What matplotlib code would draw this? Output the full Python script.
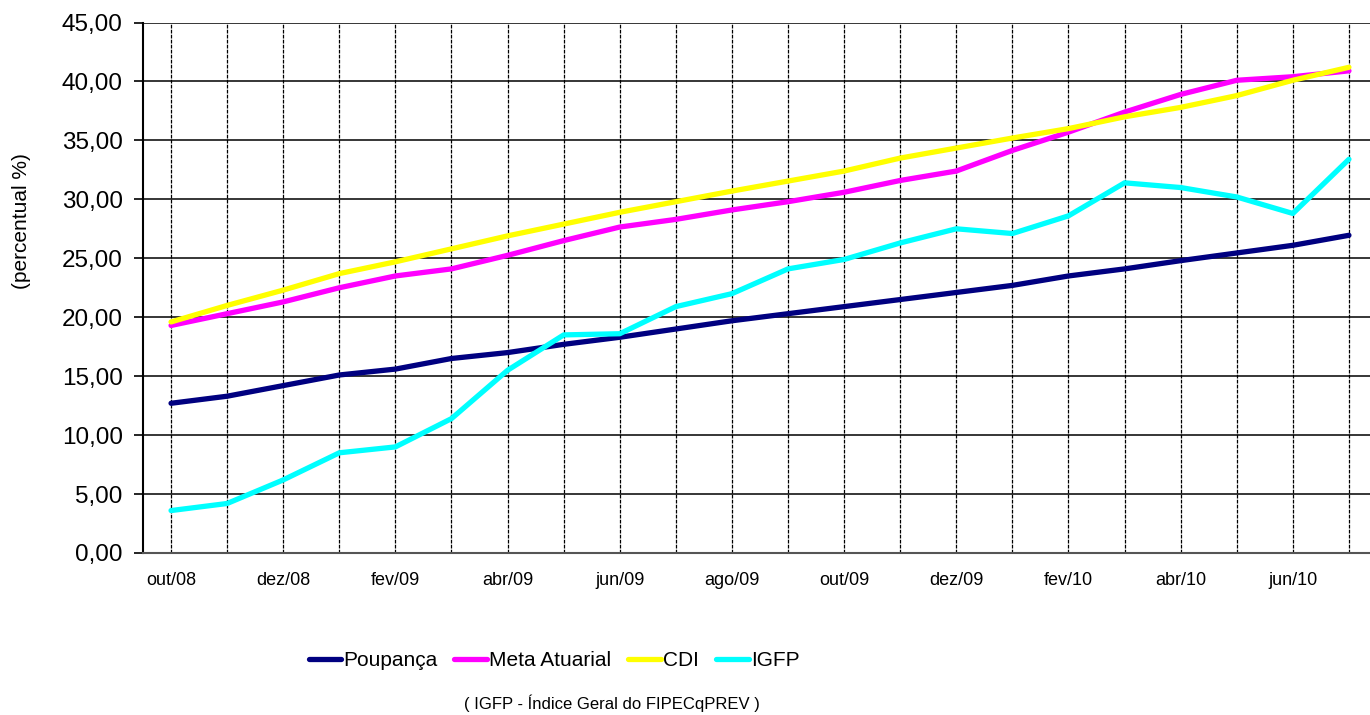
import matplotlib
matplotlib.use("Agg")
import matplotlib.pyplot as plt

# dados (percentual acumulado)
meses = ["out/08", "nov/08", "dez/08", "jan/09", "fev/09", "mar/09", "abr/09", "mai/09",
         "jun/09", "jul/09", "ago/09", "set/09", "out/09", "nov/09", "dez/09", "jan/10",
         "fev/10", "mar/10", "abr/10", "mai/10", "jun/10", "jul/10"]
poupanca = [12.7, 13.3, 14.2, 15.1, 15.6, 16.5, 17.0, 17.7, 18.3, 19.0, 19.7, 20.3,
            20.9, 21.5, 22.1, 22.7, 23.5, 24.1, 24.8, 25.45, 26.1, 26.95]
meta_atuarial = [19.3, 20.3, 21.3, 22.5, 23.5, 24.1, 25.25, 26.5, 27.65, 28.3, 29.1, 29.8,
                 30.6, 31.6, 32.4, 34.15, 35.7, 37.4, 38.9, 40.1, 40.4, 40.9]
cdi = [19.6, 21.0, 22.3, 23.7, 24.7, 25.8, 26.9, 27.9, 28.9, 29.8, 30.7, 31.55,
       32.4, 33.5, 34.35, 35.2, 36.0, 37.0, 37.8, 38.8, 40.1, 41.2]
igfp = [3.6, 4.2, 6.2, 8.5, 9.0, 11.4, 15.5, 18.5, 18.6, 20.9, 22.0, 24.1,
        24.9, 26.3, 27.5, 27.1, 28.6, 31.4, 31.0, 30.2, 28.8, 33.4]
y_ticks = [0, 5, 10, 15, 20, 25, 30, 35, 40, 45]

fonte = ["Liberation Sans", "DejaVu Sans"]

fig = plt.figure(figsize=(13.7, 7.15), dpi=100)
ax = fig.add_axes([143 / 1370, 1 - 553 / 715, 1234 / 1370, 530.5 / 715])

x = list(range(len(meses)))
series = [("Poupança", poupanca, "#000080"),
          ("Meta Atuarial", meta_atuarial, "#FF00FF"),
          ("CDI", cdi, "#FFFF00"),
          ("IGFP", igfp, "#00FFFF")]
linhas = []
for nome, valores, cor in series:
    ln, = ax.plot(x, valores, color=cor, lw=3.8, solid_capstyle="round", label=nome, zorder=3)
    linhas.append(ln)

ax.set_xlim(-0.5, len(meses) - 0.5)
ax.set_ylim(0, 45)

ax.set_yticks(y_ticks)
ax.set_yticklabels([f"{v:.2f}".replace(".", ",") for v in y_ticks], fontsize=17.5, family=fonte)
ax.set_xticks(x)
ax.set_xticklabels([m if i % 2 == 0 else "" for i, m in enumerate(meses)], fontsize=13, family=fonte)
ax.tick_params(axis="y", length=6.5, width=1.2, pad=8)
ax.tick_params(axis="x", length=0, pad=14)

# grade
ax.grid(axis="y", color="black", lw=1.1, zorder=1)
ax.grid(axis="x", color="black", lw=0.9, linestyle=(0, (3, 1)), zorder=1)

for lado in ["top", "right"]:
    ax.spines[lado].set_visible(False)
ax.spines["left"].set_linewidth(1.5)
ax.spines["bottom"].set_linewidth(1.5)
ax.spines["bottom"].set_color("#555555")

fig.text(0.016, 1 - 221 / 715, "(percentual %)", rotation=90, ha="center", va="center",
         fontsize=15, family=fonte)

fig.legend(handles=linhas, loc="center", bbox_to_anchor=(554 / 1370, 1 - 661 / 715), ncol=4,
           frameon=False, handlelength=1.58, handletextpad=0.1, columnspacing=0.8,
           prop={"family": fonte, "size": 15})

fig.text(612 / 1370, 1 - 703 / 715, "( IGFP - Índice Geral do FIPECqPREV )", ha="center",
         va="center", fontsize=12, family=fonte)

fig.savefig("out.png", dpi=100)
